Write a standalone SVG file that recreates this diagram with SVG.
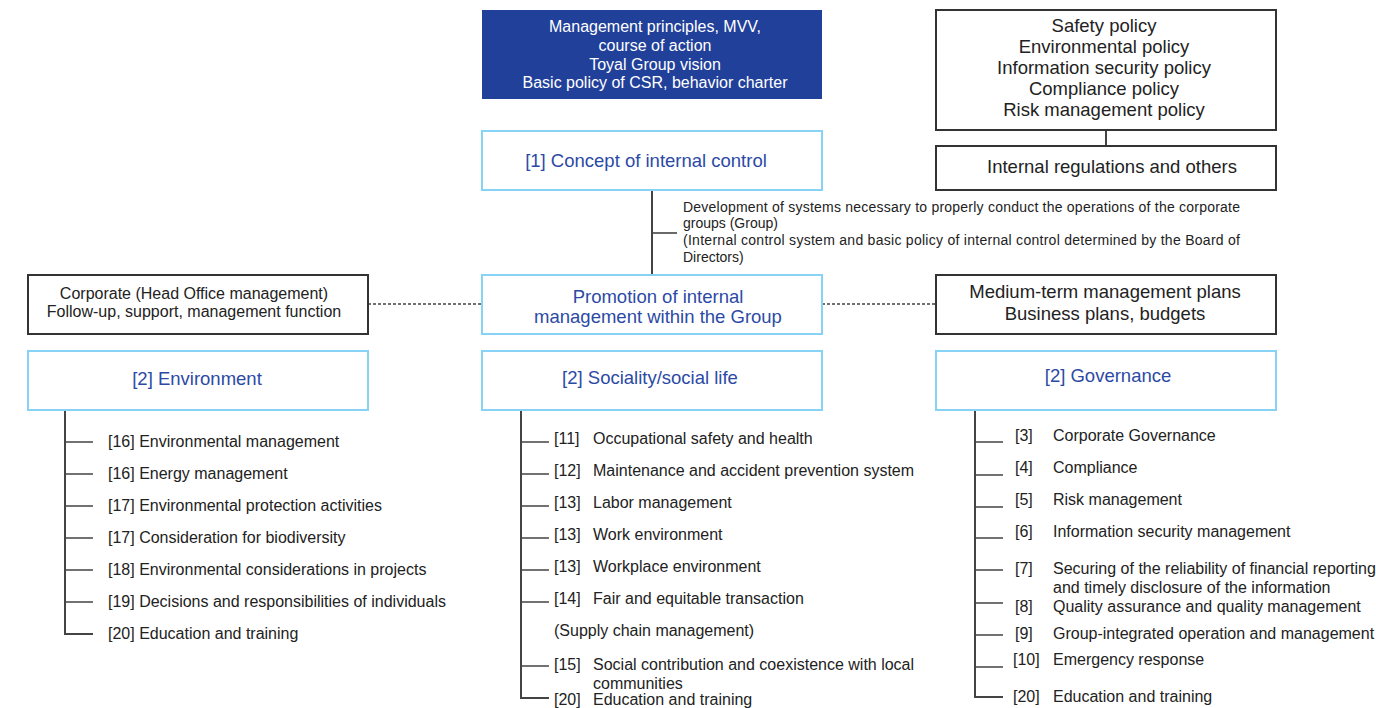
<svg xmlns="http://www.w3.org/2000/svg" width="1376" height="708" viewBox="0 0 1376 708">
<style>
text{font-family:"Liberation Sans",Arial,sans-serif;fill:#222}
.bx{fill:#fff;stroke:#333;stroke-width:2}
.lb{fill:#fff;stroke:#86d3f5;stroke-width:2}
.bt{fill:#2c4aa5;font-size:18.5px}
.big{font-size:18.5px}
.md{font-size:16px}
.sm{font-size:14px}
.c{text-anchor:middle}
.ln{stroke:#444;stroke-width:2;fill:none}
.tk{stroke:#444;stroke-width:1.6;fill:none}
.ds{stroke:#444;stroke-width:1.5;stroke-dasharray:3 2;fill:none}
</style>
<g id="connectors">
<line class="ln" x1="1106" y1="130" x2="1106" y2="146"/>
<line class="ln" x1="652" y1="190" x2="652" y2="275"/>
<line class="tk" x1="652" y1="233" x2="677" y2="233"/>
<line class="ds" x1="368" y1="304" x2="482" y2="304"/>
<line class="ds" x1="822" y1="304" x2="936" y2="304"/>
<path class="ln" d="M65 410 V634 H93"/>
<path class="tk" d="M65 442 H93 M65 474 H93 M65 506 H93 M65 538 H93 M65 570 H93 M65 602 H93"/>
<path class="ln" d="M521 410 V698 H549"/>
<path class="tk" d="M521 442 H549 M521 474 H549 M521 506 H549 M521 538 H549 M521 570 H549 M521 602 H549 M521 666 H549"/>
<path class="ln" d="M975 410 V697 H1003"/>
<path class="tk" d="M975 442 H1003 M975 475 H1003 M975 507 H1003 M975 538 H1003 M975 570 H1003 M975 603 H1003 M975 635 H1003 M975 667 H1003"/>
</g>
<g id="mvv">
<rect x="482" y="10" width="340" height="89" fill="#21409a"/>
<text class="md c" x="655" y="32" style="fill:#fff">Management principles, MVV,</text>
<text class="md c" x="655" y="51" style="fill:#fff">course of action</text>
<text class="md c" x="655" y="70" style="fill:#fff">Toyal Group vision</text>
<text class="md c" x="655" y="88" style="fill:#fff">Basic policy of CSR, behavior charter</text>
</g>
<g id="policies">
<rect class="bx" x="936" y="10" width="340" height="120"/>
<text class="big c" x="1104" y="31.5">Safety policy</text>
<text class="big c" x="1104" y="52.5">Environmental policy</text>
<text class="big c" x="1104" y="73.5">Information security policy</text>
<text class="big c" x="1104" y="94.5">Compliance policy</text>
<text class="big c" x="1104" y="116">Risk management policy</text>
</g>
<g id="regulations">
<rect class="bx" x="936" y="146" width="340" height="44"/>
<text class="big c" x="1112" y="172.5">Internal regulations and others</text>
</g>
<g id="concept">
<rect class="lb" x="482" y="131" width="340" height="59"/>
<text class="bt c" x="646" y="166.5">[1] Concept of internal control</text>
</g>
<g id="development-text">
<text class="sm" x="683" y="212" textLength="557" lengthAdjust="spacing">Development of systems necessary to properly conduct the operations of the corporate</text>
<text class="sm" x="683" y="228">groups (Group)</text>
<text class="sm" x="683" y="245" textLength="557" lengthAdjust="spacing">(Internal control system and basic policy of internal control determined by the Board of</text>
<text class="sm" x="683" y="262">Directors)</text>
</g>
<g id="corporate">
<rect class="bx" x="28" y="275" width="340" height="59"/>
<text class="md c" x="194" y="298.5">Corporate (Head Office management)</text>
<text class="md c" x="194" y="316.5">Follow-up, support, management function</text>
</g>
<g id="promotion">
<rect class="lb" x="482" y="275" width="340" height="59"/>
<text class="bt c" x="658" y="302.5">Promotion of internal</text>
<text class="bt c" x="658" y="323">management within the Group</text>
</g>
<g id="plans">
<rect class="bx" x="936" y="275" width="340" height="59"/>
<text class="big c" x="1105" y="297.5">Medium-term management plans</text>
<text class="big c" x="1105" y="319.5">Business plans, budgets</text>
</g>
<g id="environment">
<rect class="lb" x="28" y="351" width="340" height="59"/>
<text class="bt c" x="197" y="384.5">[2] Environment</text>
<text class="md" x="108" y="447">[16] Environmental management</text>
<text class="md" x="108" y="479">[16] Energy management</text>
<text class="md" x="108" y="511">[17] Environmental protection activities</text>
<text class="md" x="108" y="543">[17] Consideration for biodiversity</text>
<text class="md" x="108" y="575">[18] Environmental considerations in projects</text>
<text class="md" x="108" y="607">[19] Decisions and responsibilities of individuals</text>
<text class="md" x="108" y="639">[20] Education and training</text>
</g>
<g id="sociality">
<rect class="lb" x="482" y="351" width="340" height="59"/>
<text class="bt c" x="650" y="383.5">[2] Sociality/social life</text>
<text class="md" x="554" y="444">[11]</text><text class="md" x="593" y="444">Occupational safety and health</text>
<text class="md" x="554" y="476">[12]</text><text class="md" x="593" y="476">Maintenance and accident prevention system</text>
<text class="md" x="554" y="508">[13]</text><text class="md" x="593" y="508">Labor management</text>
<text class="md" x="554" y="540">[13]</text><text class="md" x="593" y="540">Work environment</text>
<text class="md" x="554" y="572">[13]</text><text class="md" x="593" y="572">Workplace environment</text>
<text class="md" x="554" y="604">[14]</text><text class="md" x="593" y="604">Fair and equitable transaction</text>
<text class="md" x="554" y="636">(Supply chain management)</text>
<text class="md" x="554" y="670">[15]</text><text class="md" x="593" y="670">Social contribution and coexistence with local</text>
<text class="md" x="593" y="689">communities</text>
<text class="md" x="554" y="705">[20]</text><text class="md" x="593" y="705">Education and training</text>
</g>
<g id="governance">
<rect class="lb" x="936" y="351" width="340" height="59"/>
<text class="bt c" x="1108" y="381.5">[2] Governance</text>
<text class="md" x="1015" y="441">[3]</text><text class="md" x="1053" y="441">Corporate Governance</text>
<text class="md" x="1015" y="473">[4]</text><text class="md" x="1053" y="473">Compliance</text>
<text class="md" x="1015" y="505">[5]</text><text class="md" x="1053" y="505">Risk management</text>
<text class="md" x="1015" y="537">[6]</text><text class="md" x="1053" y="537">Information security management</text>
<text class="md" x="1015" y="574">[7]</text><text class="md" x="1053" y="574">Securing of the reliability of financial reporting</text>
<text class="md" x="1053" y="593">and timely disclosure of the information</text>
<text class="md" x="1015" y="612">[8]</text><text class="md" x="1053" y="612">Quality assurance and quality management</text>
<text class="md" x="1015" y="639">[9]</text><text class="md" x="1053" y="639">Group-integrated operation and management</text>
<text class="md" x="1013" y="665">[10]</text><text class="md" x="1053" y="665">Emergency response</text>
<text class="md" x="1013" y="702">[20]</text><text class="md" x="1053" y="702">Education and training</text>
</g>
</svg>
